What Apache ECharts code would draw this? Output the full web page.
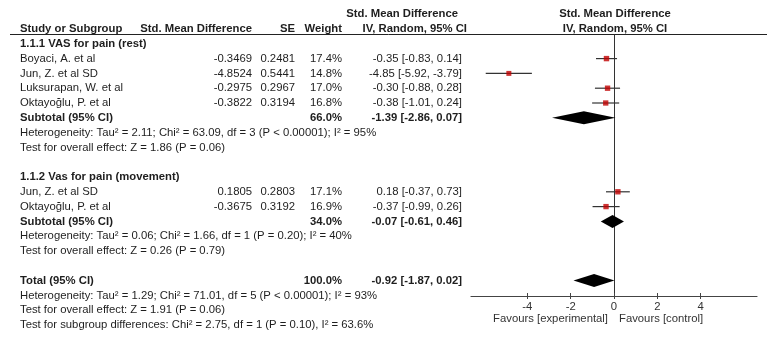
<!DOCTYPE html>
<html>
<head>
<meta charset="utf-8">
<script src="https://cdn.jsdelivr.net/npm/echarts@6/dist/echarts.min.js"></script>
<style>
  html, body { margin: 0; padding: 0; background: #fff; }
  #forest { width: 775px; height: 344px; }
</style>
</head>
<body>
<div id="forest"></div>
<script>
// study level data
var studyNames = ['Boyaci, A. et al', 'Jun, Z. et al SD', 'Luksurapan, W. et al', 'Oktayoğlu, P. et al', 'Jun, Z. et al SD', 'Oktayoğlu, P. et al'];
var studyGroup = [0, 0, 0, 0, 1, 1];
var studySmd = [-0.3469, -4.8524, -0.2975, -0.3822, 0.1805, -0.3675];
var studySe = [0.2481, 0.5441, 0.2967, 0.3194, 0.2803, 0.3192];
var studyWeight = [17.4, 14.8, 17.0, 16.8, 17.1, 16.9];
var studyEst = [-0.35, -4.85, -0.30, -0.38, 0.18, -0.37];
var studyLow = [-0.83, -5.92, -0.88, -1.01, -0.37, -0.99];
var studyHigh = [0.14, -3.79, 0.28, 0.24, 0.73, 0.26];

// subgroups
var groupTitles = ['1.1.1 VAS for pain (rest)', '1.1.2 Vas for pain (movement)'];
var subtotalWeight = [66.0, 34.0];
var subtotalEst = [-1.39, -0.07];
var subtotalLow = [-2.86, -0.61];
var subtotalHigh = [0.07, 0.46];
var groupHeterogeneity = [
  'Heterogeneity: Tau² = 2.11; Chi² = 63.09, df = 3 (P < 0.00001); I² = 95%',
  'Heterogeneity: Tau² = 0.06; Chi² = 1.66, df = 1 (P = 0.20); I² = 40%'
];
var groupOverall = [
  'Test for overall effect: Z = 1.86 (P = 0.06)',
  'Test for overall effect: Z = 0.26 (P = 0.79)'
];

// total
var totalWeight = 100.0;
var totalEst = -0.92;
var totalLow = -1.87;
var totalHigh = 0.02;
var totalNotes = [
  'Heterogeneity: Tau² = 1.29; Chi² = 71.01, df = 5 (P < 0.00001); I² = 93%',
  'Test for overall effect: Z = 1.91 (P = 0.06)',
  'Test for subgroup differences: Chi² = 2.75, df = 1 (P = 0.10), I² = 63.6%'
];

var xTicks = [-4, -2, 0, 2, 4];
var favourLabels = ['Favours [experimental]', 'Favours [control]'];

// ---- layout ----
var ROW0 = 29, ROWH = 14.8;          // pixel y of row 0 and row height
var FONT = '"Liberation Sans", Arial, sans-serif';
var FS = '11.3px ';
var TXT = '#1e1e1e';
var COL = { name: 20, smd: 252, se: 295, weight: 342, ci: 462 };

function ciText(e, l, h) {
  return e.toFixed(2) + ' [' + l.toFixed(2) + ', ' + h.toFixed(2) + ']';
}

var texts = [];   // [x, row, text, align, bold]
var squares = [], whiskers = [], diamonds = [];

texts.push([20, 0, 'Study or Subgroup', 'left', 1]);
texts.push([COL.smd, 0, 'Std. Mean Difference', 'right', 1]);
texts.push([COL.se, 0, 'SE', 'right', 1]);
texts.push([COL.weight, 0, 'Weight', 'right', 1]);
texts.push([458, -1.05, 'Std. Mean Difference', 'right', 1]);
texts.push([467, 0, 'IV, Random, 95% CI', 'right', 1]);
texts.push([615, -1.05, 'Std. Mean Difference', 'center', 1]);
texts.push([615, 0, 'IV, Random, 95% CI', 'center', 1]);

var row = 1;
groupTitles.forEach(function (title, g) {
  texts.push([COL.name, row++, title, 'left', 1]);
  studyNames.forEach(function (n, i) {
    if (studyGroup[i] !== g) return;
    texts.push([COL.name, row, n, 'left', 0]);
    texts.push([COL.smd, row, studySmd[i].toFixed(4), 'right', 0]);
    texts.push([COL.se, row, studySe[i].toFixed(4), 'right', 0]);
    texts.push([COL.weight, row, studyWeight[i].toFixed(1) + '%', 'right', 0]);
    texts.push([COL.ci, row, ciText(studyEst[i], studyLow[i], studyHigh[i]), 'right', 0]);
    squares.push([studySmd[i], row, studyWeight[i]]);
    whiskers.push([studyLow[i], studyHigh[i], row]);
    row++;
  });
  texts.push([COL.name, row, 'Subtotal (95% CI)', 'left', 1]);
  texts.push([COL.weight, row, subtotalWeight[g].toFixed(1) + '%', 'right', 1]);
  texts.push([COL.ci, row, ciText(subtotalEst[g], subtotalLow[g], subtotalHigh[g]), 'right', 1]);
  diamonds.push([subtotalLow[g], subtotalEst[g], subtotalHigh[g], row]);
  row++;
  texts.push([COL.name, row++, groupHeterogeneity[g], 'left', 0]);
  texts.push([COL.name, row++, groupOverall[g], 'left', 0]);
  row++;
});
texts.push([COL.name, row, 'Total (95% CI)', 'left', 1]);
texts.push([COL.weight, row, totalWeight.toFixed(1) + '%', 'right', 1]);
texts.push([COL.ci, row, ciText(totalEst, totalLow, totalHigh), 'right', 1]);
diamonds.push([totalLow, totalEst, totalHigh, row]);
row++;
totalNotes.forEach(function (t) { texts.push([COL.name, row++, t, 'left', 0]); });
texts.push([608, 19.6, favourLabels[0], 'right', 0, '#333']);
texts.push([619, 19.6, favourLabels[1], 'left', 0, '#333']);

function rowAt(py) { return (py - ROW0) / ROWH; }

var chart = echarts.init(document.getElementById('forest'));
var option = {
  animation: false,
  backgroundColor: '#fff',
  grid: [
    { left: 0, right: 0, top: 0, bottom: 0 },
    { left: 471, right: 18, top: 35, bottom: 48 }
  ],
  xAxis: [
    { gridIndex: 0, type: 'value', min: 0, max: 775, show: false },
    {
      gridIndex: 1, type: 'value', min: -6.6, max: 6.6, position: 'bottom',
      splitLine: { show: false },
      axisLine: { onZero: false, lineStyle: { color: '#444', width: 1.2 } },
      axisTick: { show: true, length: 3, customValues: xTicks, lineStyle: { color: '#444' } },
      axisLabel: { customValues: xTicks, margin: 5, fontSize: 11.3, fontFamily: FONT, color: '#333' }
    },
    {
      gridIndex: 1, type: 'value', min: -6.6, max: 6.6, position: 'bottom',
      splitLine: { show: false },
      axisLine: { show: false, onZero: false },
      axisTick: { show: true, inside: true, length: 3, customValues: xTicks, lineStyle: { color: '#444' } },
      axisLabel: { show: false }
    }
  ],
  yAxis: [
    { gridIndex: 0, type: 'value', inverse: true, min: rowAt(0), max: rowAt(344), show: false },
    {
      gridIndex: 1, type: 'value', inverse: true, min: rowAt(35), max: rowAt(296),
      splitLine: { show: false },
      axisTick: { show: false }, axisLabel: { show: false },
      axisLine: { show: true, onZero: true, lineStyle: { color: '#333', width: 1 } }
    }
  ],
  graphic: [
    { type: 'line', shape: { x1: 10, y1: 34.5, x2: 767, y2: 34.5 }, style: { stroke: '#222', lineWidth: 1 } }
  ],
  series: [
    {
      type: 'custom', xAxisIndex: 0, yAxisIndex: 0, silent: true,
      data: texts,
      renderItem: function (params, api) {
        var d = texts[params.dataIndex];
        var p = api.coord([d[0], d[1]]);
        return {
          type: 'text',
          style: {
            text: d[2], x: p[0], y: p[1],
            align: d[3], verticalAlign: 'middle',
            textAlign: d[3], textVerticalAlign: 'middle',
            font: (d[4] ? 'bold ' : '') + FS + FONT,
            fill: d[5] || TXT
          }
        };
      }
    },
    {
      type: 'custom', xAxisIndex: 1, yAxisIndex: 1, silent: true, clip: false,
      data: whiskers,
      renderItem: function (params, api) {
        var a = api.coord([api.value(0), api.value(2)]);
        var b = api.coord([api.value(1), api.value(2)]);
        return {
          type: 'line',
          shape: { x1: a[0], y1: a[1], x2: b[0], y2: b[1] },
          style: { stroke: '#333', lineWidth: 1.2 }
        };
      }
    },
    {
      type: 'scatter', xAxisIndex: 1, yAxisIndex: 1, silent: true,
      symbol: 'rect',
      symbolSize: function (v) { return Math.sqrt(v[2]) * 1.3; },
      itemStyle: { color: '#c00000' },
      data: squares
    },
    {
      type: 'custom', xAxisIndex: 1, yAxisIndex: 1, silent: true, clip: false,
      data: diamonds,
      renderItem: function (params, api) {
        var r = api.value(3), h = 0.44;
        var pts = [
          api.coord([api.value(0), r]),
          api.coord([api.value(1), r - h]),
          api.coord([api.value(2), r]),
          api.coord([api.value(1), r + h])
        ];
        return { type: 'polygon', shape: { points: pts }, style: { fill: '#000' } };
      }
    }
  ]
};
chart.setOption(option);
</script>
</body>
</html>
